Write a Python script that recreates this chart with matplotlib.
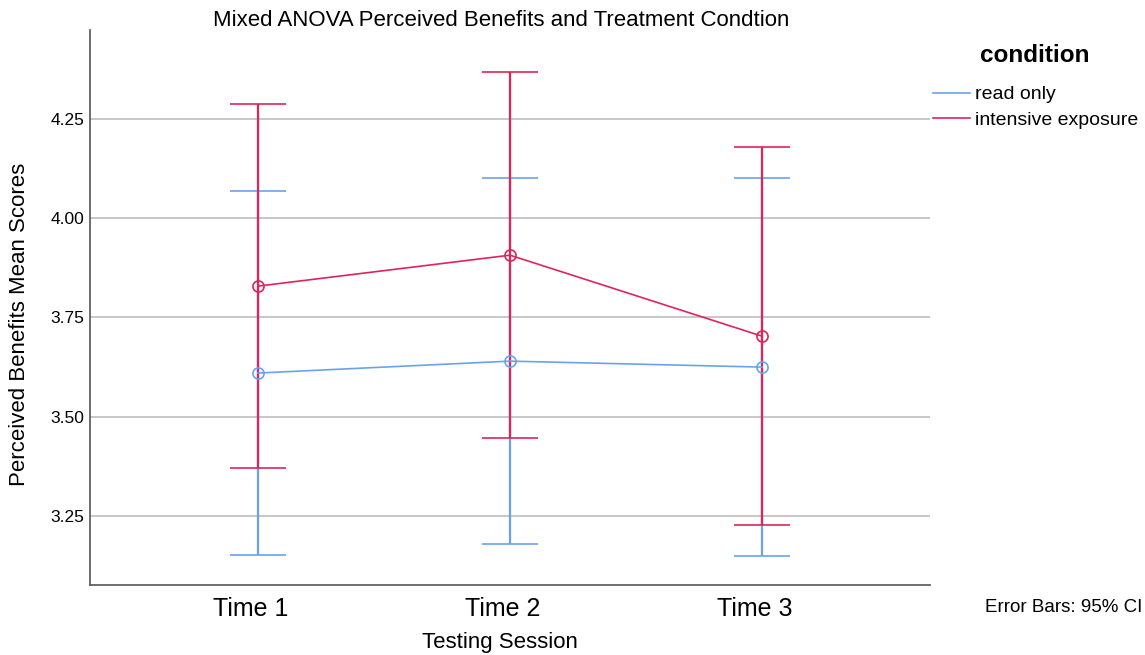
import matplotlib
matplotlib.use("Agg")
import matplotlib.pyplot as plt
import matplotlib.transforms as mtransforms
import numpy as np

sessions = ["Time 1", "Time 2", "Time 3"]
read_mean = [3.610, 3.640, 3.625]
read_low = [3.151, 3.179, 3.149]
read_high = [4.068, 4.101, 4.101]
int_mean = [3.829, 3.907, 3.703]
int_low = [3.370, 3.446, 3.227]
int_high = [4.288, 4.368, 4.179]

blue = "#6aa3eb"
red = "#e0245a"

plt.rcParams['font.family'] = ['Liberation Sans', 'DejaVu Sans']

fig = plt.figure(figsize=(11.45, 6.55), dpi=100)
ax = fig.add_axes([0.0786, 0.1069, 0.8122 - 0.0786, 0.954 - 0.1069])

x = np.arange(1, len(sessions) + 1)

def draw_series(mean, low, high, color, label):
    mean = np.array(mean)
    yerr = [mean - np.array(low), np.array(high) - mean]
    ax.errorbar(x, mean, yerr=yerr, color=color, lw=1.2, elinewidth=1.6,
                capsize=20, capthick=1.6, marker="o", ms=8, mfc="none",
                mec=color, mew=1.2, label=label, zorder=3)

draw_series(read_mean, read_low, read_high, blue, "read only")
draw_series(int_mean, int_low, int_high, red, "intensive exposure")

ax.set_xlim(0.333, 3.667)
ax.set_ylim(3.076, 4.474)
ax.set_xticks(x)
ax.set_xticklabels(sessions, fontsize=18)
ax.set_yticks([3.25, 3.50, 3.75, 4.00, 4.25])
ax.set_yticklabels(["3.25", "3.50", "3.75", "4.00", "4.25"], fontsize=12.5)
ax.tick_params(axis="x", length=0, pad=9)
ax.tick_params(axis="y", length=0, pad=4.3)
ax.yaxis.grid(True, color="#bdbdbd", lw=1.2)
ax.set_axisbelow(True)
for s in ["top", "right"]:
    ax.spines[s].set_visible(False)
for s in ["left", "bottom"]:
    ax.spines[s].set_color("#555555")
    ax.spines[s].set_linewidth(1.2)

# labels sit a few pixels left of tick centres in the original
shift = mtransforms.ScaledTranslation(-7 / 100, 0, fig.dpi_scale_trans)
for lab in ax.get_xticklabels():
    lab.set_transform(lab.get_transform() + shift)

ax.set_xlabel("Testing Session", fontsize=16, labelpad=8)
ax.xaxis.set_label_coords(0.4886, -0.085)
ax.set_ylabel("Perceived Benefits Mean Scores", fontsize=16)
ax.yaxis.set_label_coords(-0.071, 0.47)
fig.text(0.4376, 0.969, "Mixed ANOVA Perceived Benefits and Treatment Condtion",
         fontsize=16, ha="center", va="center")

handles = [plt.Line2D([], [], color=blue, lw=1.2), plt.Line2D([], [], color=red, lw=1.2)]
leg = fig.legend(handles, ["read only", "intensive exposure"], loc="upper left",
                 bbox_to_anchor=(0.8148, 0.869), frameon=False, fontsize=14,
                 handlelength=1.9, handletextpad=0.25, labelspacing=0.41,
                 borderpad=0, borderaxespad=0)
fig.text(0.856, 0.916, "condition", fontsize=17.5, fontweight="bold", va="center")
fig.text(0.860, 0.072, "Error Bars: 95% CI", fontsize=13.5, va="center")

fig.savefig("out.png", dpi=100)
